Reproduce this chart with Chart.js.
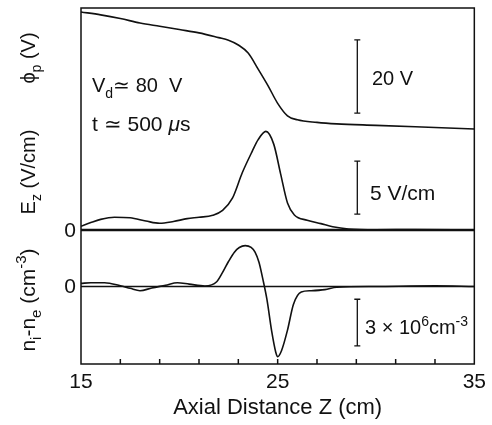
<!DOCTYPE html>
<html><head><meta charset="utf-8">
<script src="https://cdn.jsdelivr.net/npm/chart.js@4.4.1/dist/chart.umd.min.js"></script>
<style>html,body{margin:0;padding:0;background:#fff;overflow:hidden}</style>
</head><body>
<canvas id="c" width="492" height="425"></canvas>
<script>
// ---- data ----
// plasma potential (V, relative to downstream end)
const zPhi = [15, 16, 17, 18, 19, 20, 21, 22, 22.5, 23, 23.5, 24, 24.5, 25, 25.5, 26, 27, 28, 30, 32, 35];
const phiValues = [31.9, 31.1, 30.1, 28.9, 28.0, 27.1, 26.2, 24.9, 24.2, 22.9, 20.7, 16.4, 11.9, 7.0, 3.6, 2.5, 1.8, 1.4, 1.0, 0.6, 0.0];
// axial electric field (V/cm)
const zE = [15, 15.5, 16, 16.7, 17.5, 18.3, 19, 19.7, 20.4, 21, 21.7, 22.2, 22.7, 23.2, 23.7, 24, 24.4, 24.8, 25.15, 25.5, 25.85, 26.5, 27.2, 27.8, 28.6, 30, 32, 35];
const eValues = [0.35, 0.7, 1.0, 1.2, 1.15, 0.85, 0.63, 0.8, 1.07, 1.2, 1.39, 1.85, 3.0, 5.4, 7.4, 8.5, 9.3, 8.1, 5.3, 2.55, 1.42, 0.92, 0.6, 0.31, 0.1, 0.03, 0.05, 0.0];
// charge density n_i - n_e (10^6 cm^-3)
const zN = [15, 15.5, 16.2, 17, 17.5, 18, 18.6, 19.3, 19.9, 20.5, 21.3, 21.9, 22.2, 22.5, 22.8, 23.05, 23.35, 23.65, 23.85, 24.05, 24.25, 24.45, 24.7, 24.9, 25, 25.2, 25.5, 25.8, 26.2, 26.7, 27.4, 28, 30, 33, 35];
const nValues = [0.2, 0.24, 0.24, 0.05, -0.12, -0.27, -0.1, 0.08, 0.24, 0.15, 0.03, 0.3, 0.9, 1.6, 2.2, 2.5, 2.62, 2.5, 2.2, 1.55, 0.45, -0.8, -2.9, -4.2, -4.5, -4.1, -2.8, -1.15, -0.35, -0.27, -0.2, -0.05, 0.0, 0.04, 0.0];
const xTickLabels = ['15', '25', '35'];
// scale bars: [axis, z, from, to]
const scaleBars = [['yPhi', 29.05, 4.3, 24.3], ['yE', 29.05, 1.5, 6.5], ['yN', 29.05, -3.81, -0.82]];

const toXY = (xs, ys) => xs.map((x, i) => ({x, y: ys[i]}));
const FONT = '"Liberation Sans", Arial, Helvetica, sans-serif';

function segFont(s, size) {
  const sz = (s.sub || s.sup) ? Math.round(size * 0.72) : size;
  return (s.it ? 'italic ' : '') + sz + 'px ' + FONT;
}
function richWidth(ctx, segs, size) {
  let w = 0;
  for (const s of segs) { ctx.font = segFont(s, size); w += ctx.measureText(s.t).width; }
  return w;
}
function drawRich(ctx, segs, x, y, size, align) {
  const w = richWidth(ctx, segs, size);
  let cx = align === 'center' ? x - w / 2 : x;
  ctx.textAlign = 'left';
  ctx.textBaseline = 'alphabetic';
  for (const s of segs) {
    ctx.font = segFont(s, size);
    const dy = s.sub ? size * 0.3 : s.sup ? -size * 0.42 : 0;
    ctx.fillText(s.t, cx, y + dy);
    cx += ctx.measureText(s.t).width;
  }
}

const framePlugin = {
  id: 'frame',
  beforeDatasetsDraw(chart) {
    const ctx = chart.ctx, a = chart.chartArea, s = chart.scales;
    ctx.save();
    ctx.strokeStyle = '#111';
    ctx.lineWidth = 2.4;
    let y = s.yE.getPixelForValue(0);
    ctx.beginPath(); ctx.moveTo(a.left, y); ctx.lineTo(a.right, y); ctx.stroke();
    ctx.lineWidth = 1.6;
    y = s.yN.getPixelForValue(0);
    ctx.beginPath(); ctx.moveTo(a.left, y); ctx.lineTo(a.right, y); ctx.stroke();
    ctx.restore();
  },
  afterDatasetsDraw(chart) {
    const ctx = chart.ctx, a = chart.chartArea, s = chart.scales;
    ctx.save();
    ctx.strokeStyle = '#111';
    ctx.fillStyle = '#111';
    ctx.lineWidth = 1.5;
    ctx.strokeRect(a.left, a.top, a.right - a.left, a.bottom - a.top);
    // inward tick marks on the z axis
    for (const t of s.x.ticks) {
      if (t.value <= s.x.min || t.value >= s.x.max) continue;
      const x = s.x.getPixelForValue(t.value);
      ctx.beginPath(); ctx.moveTo(x, a.bottom); ctx.lineTo(x, a.bottom - 5); ctx.stroke();
    }
    // scale bars
    ctx.lineWidth = 1.3;
    for (const [ax, z, v0, v1] of scaleBars) {
      const x = s.x.getPixelForValue(z);
      const y0 = s[ax].getPixelForValue(v0), y1 = s[ax].getPixelForValue(v1);
      ctx.beginPath();
      ctx.moveTo(x, y0); ctx.lineTo(x, y1);
      ctx.moveTo(x - 3, y0); ctx.lineTo(x + 3, y0);
      ctx.moveTo(x - 3, y1); ctx.lineTo(x + 3, y1);
      ctx.stroke();
    }
    // annotations
    drawRich(ctx, [{t: 'V'}, {t: 'd', sub: true}, {t: '\u2243 80  V'}], 92, 92, 20, 'left');
    drawRich(ctx, [{t: 't \u2243 500 '}, {t: '\u03bc', it: true}, {t: 's'}], 92, 131, 21, 'left');
    drawRich(ctx, [{t: '20 V'}], 372, 85, 20, 'left');
    drawRich(ctx, [{t: '5 V/cm'}], 370, 200, 21, 'left');
    drawRich(ctx, [{t: '3'}, {t: ' \u00d7 '}, {t: '10'}, {t: '6', sup: true}, {t: 'cm'}, {t: '-3', sup: true}], 365, 334, 20, 'left');
    // zero labels
    ctx.font = '21px ' + FONT;
    ctx.textAlign = 'right';
    ctx.textBaseline = 'middle';
    ctx.fillText('0', 76, s.yE.getPixelForValue(0) + 1);
    ctx.fillText('0', 76, s.yN.getPixelForValue(0) + 1);
    // rotated axis titles
    const titles = [
      [[{t: '\u03d5'}, {t: 'p', sub: true}, {t: ' (V)'}], 58, 20],
      [[{t: 'E'}, {t: 'z', sub: true}, {t: ' (V/cm)'}], 172, 20],
      [[{t: 'n'}, {t: 'i', sub: true}, {t: '-n'}, {t: 'e', sub: true}, {t: ' (cm'}, {t: '-3', sup: true}, {t: ')'}], 300, 21]
    ];
    for (const [segs, cy, sz] of titles) {
      ctx.save();
      ctx.translate(35, cy);
      ctx.rotate(-Math.PI / 2);
      drawRich(ctx, segs, 0, 0, sz, 'center');
      ctx.restore();
    }
    ctx.restore();
  }
};

const lineStyle = {borderColor: '#111', borderWidth: 1.6, pointRadius: 0, fill: false, cubicInterpolationMode: 'monotone'};

new Chart(document.getElementById('c'), {
  type: 'line',
  data: {
    datasets: [
      Object.assign({label: 'phi', data: toXY(zPhi, phiValues), yAxisID: 'yPhi'}, lineStyle),
      Object.assign({label: 'Ez', data: toXY(zE, eValues), yAxisID: 'yE'}, lineStyle),
      Object.assign({label: 'ni-ne', data: toXY(zN, nValues), yAxisID: 'yN'}, lineStyle)
    ]
  },
  options: {
    responsive: false,
    animation: false,
    devicePixelRatio: 1,
    layout: {padding: {left: 81, right: 13, top: 8, bottom: 0}},
    plugins: {legend: {display: false}, tooltip: {enabled: false}},
    scales: {
      x: {
        type: 'linear', min: 15, max: 35,
        grid: {display: false, drawTicks: false},
        border: {display: false},
        ticks: {
          stepSize: 2, autoSkip: false, maxRotation: 0, padding: 6,
          color: '#111', font: {family: FONT, size: 21},
          callback: v => xTickLabels.includes(String(v)) ? String(v) : ''
        },
        title: {display: true, text: 'Axial Distance Z (cm)', color: '#111', font: {family: FONT, size: 22}, padding: {top: 0, bottom: 4}},
        afterFit: sc => { sc.height = 61; }
      },
      yPhi: {type: 'linear', display: false, min: -64.03, max: 32.97},
      yE: {type: 'linear', display: false, min: -12.64, max: 20.94},
      yN: {type: 'linear', display: false, min: -4.97, max: 17.85}
    }
  },
  plugins: [framePlugin]
});
</script>
</body></html>
